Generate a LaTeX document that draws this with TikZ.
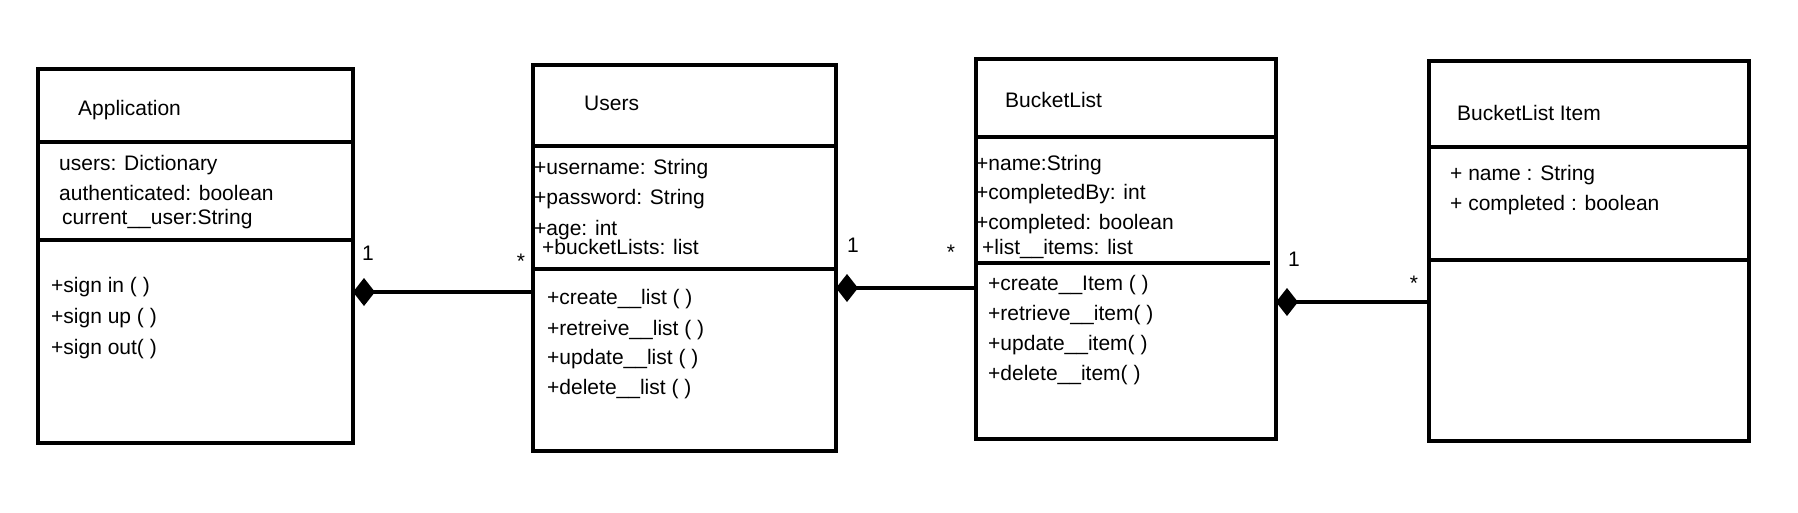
\documentclass[tikz,border=0pt]{standalone}
\usepackage{fontspec}
\setmainfont{Liberation Sans}
\usetikzlibrary{arrows.meta}
\begin{document}
\begin{tikzpicture}[x=1pt, y=-1pt,
    cls/.style={draw, line width=4pt, anchor=north west, inner sep=0pt, outer sep=0pt},
    sep/.style={line width=4pt},
    txt/.style={anchor=west, inner sep=0pt, text height=15pt, text depth=0pt, font=\fontsize{21}{25}\selectfont},
    mult/.style={txt, anchor=center},
    comp/.style={line width=4pt, {Diamond[length=22pt, width=28pt]}-}]
  \useasboundingbox (0,0) rectangle (1798,512);
  % class boxes
  \node[cls, minimum width=315pt, minimum height=374pt] (app) at (38,69) {};
  \node[cls, minimum width=303pt, minimum height=386pt] (users) at (533,65) {};
  \node[cls, minimum width=300pt, minimum height=380pt] (bucket) at (976,59) {};
  \node[cls, minimum width=320pt, minimum height=380pt] (item) at (1429,61) {};
  % compartments
  \draw[sep] (app.west |- 0,142) -- (app.east |- 0,142);
  \draw[sep] (app.west |- 0,240) -- (app.east |- 0,240);
  \draw[sep] (users.west |- 0,146) -- (users.east |- 0,146);
  \draw[sep] (users.west |- 0,269) -- (users.east |- 0,269);
  \draw[sep] (bucket.west |- 0,137) -- (bucket.east |- 0,137);
  \draw[sep] (bucket.west |- 0,263) -- (1270,263);
  \draw[sep] (item.west |- 0,147) -- (item.east |- 0,147);
  \draw[sep] (item.west |- 0,260) -- (item.east |- 0,260);
  % Application
  \node[txt] (appname) at (78,108) {Application};
  \node[txt] (appusers) at (59,163) {users: Dictionary};
  \node[txt] (appauth) at (59,193) {authenticated: boolean};
  \node[txt] (appcur) at (62,217) {current\_\_user:String};
  \node[txt] (appin) at (51,285) {+sign in ( )};
  \node[txt] (appup) at (51,316) {+sign up ( )};
  \node[txt] (appout) at (51,347) {+sign out( )};
  % Users
  \node[txt] (usersname) at (584,103) {Users};
  \node[txt] (usersuser) at (534,167) {+username: String};
  \node[txt] (userspass) at (534,197) {+password: String};
  \node[txt] (usersage) at (534,228) {+age: int};
  \node[txt] (userslists) at (542,247) {+bucketLists: list};
  \node[txt] (userscreate) at (547,297) {+create\_\_list ( )};
  \node[txt] (usersget) at (547,328) {+retreive\_\_list ( )};
  \node[txt] (usersupd) at (547,357) {+update\_\_list ( )};
  \node[txt] (usersdel) at (547,387) {+delete\_\_list ( )};
  % BucketList
  \node[txt] (bucketname) at (1005,100) {BucketList};
  \node[txt] (bucketattr) at (976,163) {+name:String};
  \node[txt] (bucketby) at (976,192) {+completedBy: int};
  \node[txt] (bucketdone) at (976,222) {+completed: boolean};
  \node[txt] (bucketitems) at (982,247) {+list\_\_items: list};
  \node[txt] (bucketcreate) at (988,283) {+create\_\_Item ( )};
  \node[txt] (bucketget) at (988,313) {+retrieve\_\_item( )};
  \node[txt] (bucketupd) at (988,343) {+update\_\_item( )};
  \node[txt] (bucketdel) at (988,373) {+delete\_\_item( )};
  % BucketList Item
  \node[txt] (itemname) at (1457,113) {BucketList Item};
  \node[txt] (itemattr) at (1450,173) {+ name : String};
  \node[txt] (itemdone) at (1450,203) {+ completed : boolean};
  % compositions
  \coordinate (l1) at (0,292);
  \coordinate (l2) at (0,288);
  \coordinate (l3) at (0,302);
  \draw[comp] (app.east |- l1) -- (users.west |- l1);
  \draw[comp] (users.east |- l2) -- (bucket.west |- l2);
  \draw[comp] (bucket.east |- l3) -- (item.west |- l3);
  \node[mult] (m1) at (368,253) {1};
  \node[mult] (m2) at (521,261) {*};
  \node[mult] (m3) at (853,245) {1};
  \node[mult] (m4) at (951,252) {*};
  \node[mult] (m5) at (1294,259) {1};
  \node[mult] (m6) at (1414,283) {*};
\end{tikzpicture}
\end{document}
